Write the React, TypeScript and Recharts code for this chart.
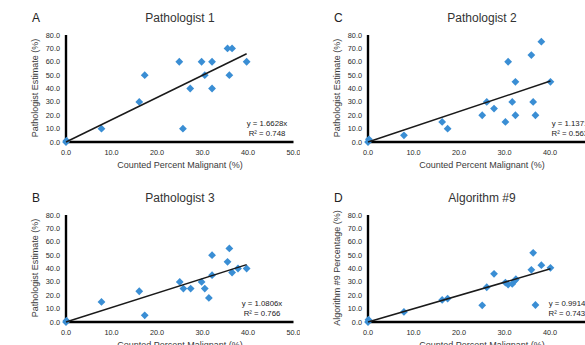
import { Scatter, ScatterChart, XAxis, YAxis } from "recharts";

type Point = { x: number; y: number };

const xTicks = [0, 10, 20, 30, 40, 50];
const yTicks = [0, 10, 20, 30, 40, 50, 60, 70, 80];

const pathologist1: Point[] = [
  { x: 0, y: 0 }, { x: 0.1, y: 1 }, { x: 7.8, y: 10 }, { x: 16.1, y: 30 },
  { x: 17.3, y: 50 }, { x: 24.9, y: 60 }, { x: 25.7, y: 10 }, { x: 27.3, y: 40 },
  { x: 29.8, y: 60 }, { x: 30.5, y: 50 }, { x: 32.1, y: 60 }, { x: 32.1, y: 40 },
  { x: 35.5, y: 70 }, { x: 36.5, y: 70 }, { x: 35.9, y: 50 }, { x: 39.7, y: 60 },
];

const pathologist2: Point[] = [
  { x: 0, y: 0 }, { x: 0.2, y: 2 }, { x: 7.9, y: 5 }, { x: 16.3, y: 15 },
  { x: 17.5, y: 10 }, { x: 25.1, y: 20 }, { x: 26.1, y: 30 }, { x: 27.7, y: 25 },
  { x: 30.2, y: 15 }, { x: 30.8, y: 60 }, { x: 31.7, y: 30 }, { x: 32.4, y: 45 },
  { x: 32.4, y: 20 }, { x: 35.9, y: 65 }, { x: 36.3, y: 30 }, { x: 36.8, y: 20 },
  { x: 38.1, y: 75 }, { x: 40.1, y: 45 },
];

const pathologist3: Point[] = [
  { x: 0, y: 0 }, { x: 0.1, y: 1 }, { x: 7.8, y: 15 }, { x: 16.1, y: 23 },
  { x: 17.3, y: 5 }, { x: 25, y: 30 }, { x: 25.8, y: 25 }, { x: 27.4, y: 25 },
  { x: 29.8, y: 30 }, { x: 30.5, y: 25 }, { x: 31.4, y: 18 }, { x: 32.1, y: 50 },
  { x: 32.1, y: 35 }, { x: 35.5, y: 45 }, { x: 35.9, y: 55 }, { x: 36.5, y: 37 },
  { x: 37.8, y: 40 }, { x: 39.7, y: 40 },
];

const algorithm9: Point[] = [
  { x: 0, y: 0 }, { x: 0.1, y: 1.7 }, { x: 7.9, y: 7.5 }, { x: 16.3, y: 16.5 },
  { x: 17.5, y: 17.5 }, { x: 25.1, y: 12.5 }, { x: 26.1, y: 26 }, { x: 27.7, y: 36 },
  { x: 30.2, y: 29.5 }, { x: 30.8, y: 28 }, { x: 31.7, y: 28.5 }, { x: 32.3, y: 31 },
  { x: 32.5, y: 32 }, { x: 35.9, y: 39 }, { x: 36.3, y: 51.7 }, { x: 36.8, y: 12.7 },
  { x: 38.1, y: 42.5 }, { x: 40.1, y: 40.5 },
];

const BLUE = "#3a8ed4";
const FONT = "'Liberation Sans', Arial, sans-serif";

function Diamond(props: any) {
  const { cx, cy } = props;
  const r = 3.9;
  return (
    <path
      d={`M${cx},${cy - r}L${cx + r},${cy}L${cx},${cy + r}L${cx - r},${cy}Z`}
      fill={BLUE}
    />
  );
}

interface PanelProps {
  letter: string;
  title: string;
  yTitle: string;
  data: Point[];
  slope: number;
  equation: string;
  rSquared: string;
  eqX: number;
  left: number;
  top: number;
}

function Panel({ letter, title, yTitle, data, slope, equation, rSquared, eqX, left, top }: PanelProps) {
  const maxX = Math.max(...data.map((d) => d.x));
  const trend = [
    { x: 0, y: 0 },
    { x: maxX, y: slope * maxX },
  ];
  const text = { position: "absolute" as const, fontFamily: FONT, whiteSpace: "nowrap" as const, lineHeight: 1 };

  return (
    <div style={{ position: "absolute", left, top, width: 300, height: 180 }}>
      <ScatterChart width={300} height={180} margin={{ top: 35, right: 6.5, bottom: 8, left: 26 }}>
        <XAxis
          type="number"
          dataKey="x"
          domain={[0, 50]}
          ticks={xTicks}
          interval={0}
          tickFormatter={(v: number) => v.toFixed(1)}
          tickLine={false}
          tickSize={6}
          tickMargin={2}
          height={30}
          axisLine={{ stroke: "#000", strokeWidth: 2.4 }}
          tick={{ fontSize: 7.3, fill: "#2a2a2a", fontFamily: FONT }}
        />
        <YAxis
          type="number"
          dataKey="y"
          domain={[0, 80]}
          ticks={yTicks}
          interval={0}
          tickFormatter={(v: number) => v.toFixed(1)}
          tickLine={false}
          tickSize={4}
          tickMargin={2}
          width={40}
          axisLine={{ stroke: "#000", strokeWidth: 2.4 }}
          tick={{ fontSize: 7.3, fill: "#2a2a2a", fontFamily: FONT }}
        />
        <Scatter data={data} fill={BLUE} shape={Diamond} isAnimationActive={false} />
        <Scatter
          data={trend}
          line={{ stroke: "#1a1a1a", strokeWidth: 1.5 }}
          shape={() => <g />}
          isAnimationActive={false}
        />
      </ScatterChart>
      <div style={{ ...text, left: 32, top: 12, fontSize: 12, color: "#222" }}>{letter}</div>
      <div
        style={{ ...text, left: 180, top: 12, fontSize: 12, color: "#333", transform: "translateX(-50%)" }}
      >
        {title}
      </div>
      <div
        style={{
          ...text,
          left: 35,
          top: 88,
          fontSize: 9,
          color: "#3a3a3a",
          transform: "translate(-50%, -50%) rotate(-90deg)",
        }}
      >
        {yTitle}
      </div>
      <div
        style={{ ...text, left: 180, top: 160.5, fontSize: 9, color: "#3a3a3a", transform: "translateX(-50%)" }}
      >
        Counted Percent Malignant (%)
      </div>
      <div
        style={{ ...text, left: eqX, top: 120, fontSize: 7.8, color: "#222", transform: "translateX(-50%)", textAlign: "center" }}
      >
        <div>{equation}</div>
        <div style={{ marginTop: 2 }}>{rSquared}</div>
      </div>
    </div>
  );
}

export default function App() {
  return (
    <div
      style={{
        position: "absolute",
        left: 0,
        top: 0,
        width: 585,
        height: 345,
        overflow: "hidden",
        background: "#fff",
      }}
    >
      <Panel
        letter="A"
        title="Pathologist 1"
        yTitle="Pathologist Estimate (%)"
        data={pathologist1}
        slope={1.6628}
        equation="y = 1.6628x"
        rSquared="R² = 0.748"
        eqX={267}
        left={0}
        top={0}
      />
      <Panel
        letter="C"
        title="Pathologist 2"
        yTitle="Pathologist Estimate (%)"
        data={pathologist2}
        slope={1.137}
        equation="y = 1.1371x"
        rSquared="R² = 0.5631"
        eqX={270}
        left={302}
        top={0}
      />
      <Panel
        letter="B"
        title="Pathologist 3"
        yTitle="Pathologist Estimate (%)"
        data={pathologist3}
        slope={1.0806}
        equation="y = 1.0806x"
        rSquared="R² = 0.766"
        eqX={262}
        left={0}
        top={180}
      />
      <Panel
        letter="D"
        title="Algorithm #9"
        yTitle="Algorithm #9 Percentage (%)"
        data={algorithm9}
        slope={0.9914}
        equation="y = 0.9914x"
        rSquared="R² = 0.7437"
        eqX={267}
        left={302}
        top={180}
      />
    </div>
  );
}
